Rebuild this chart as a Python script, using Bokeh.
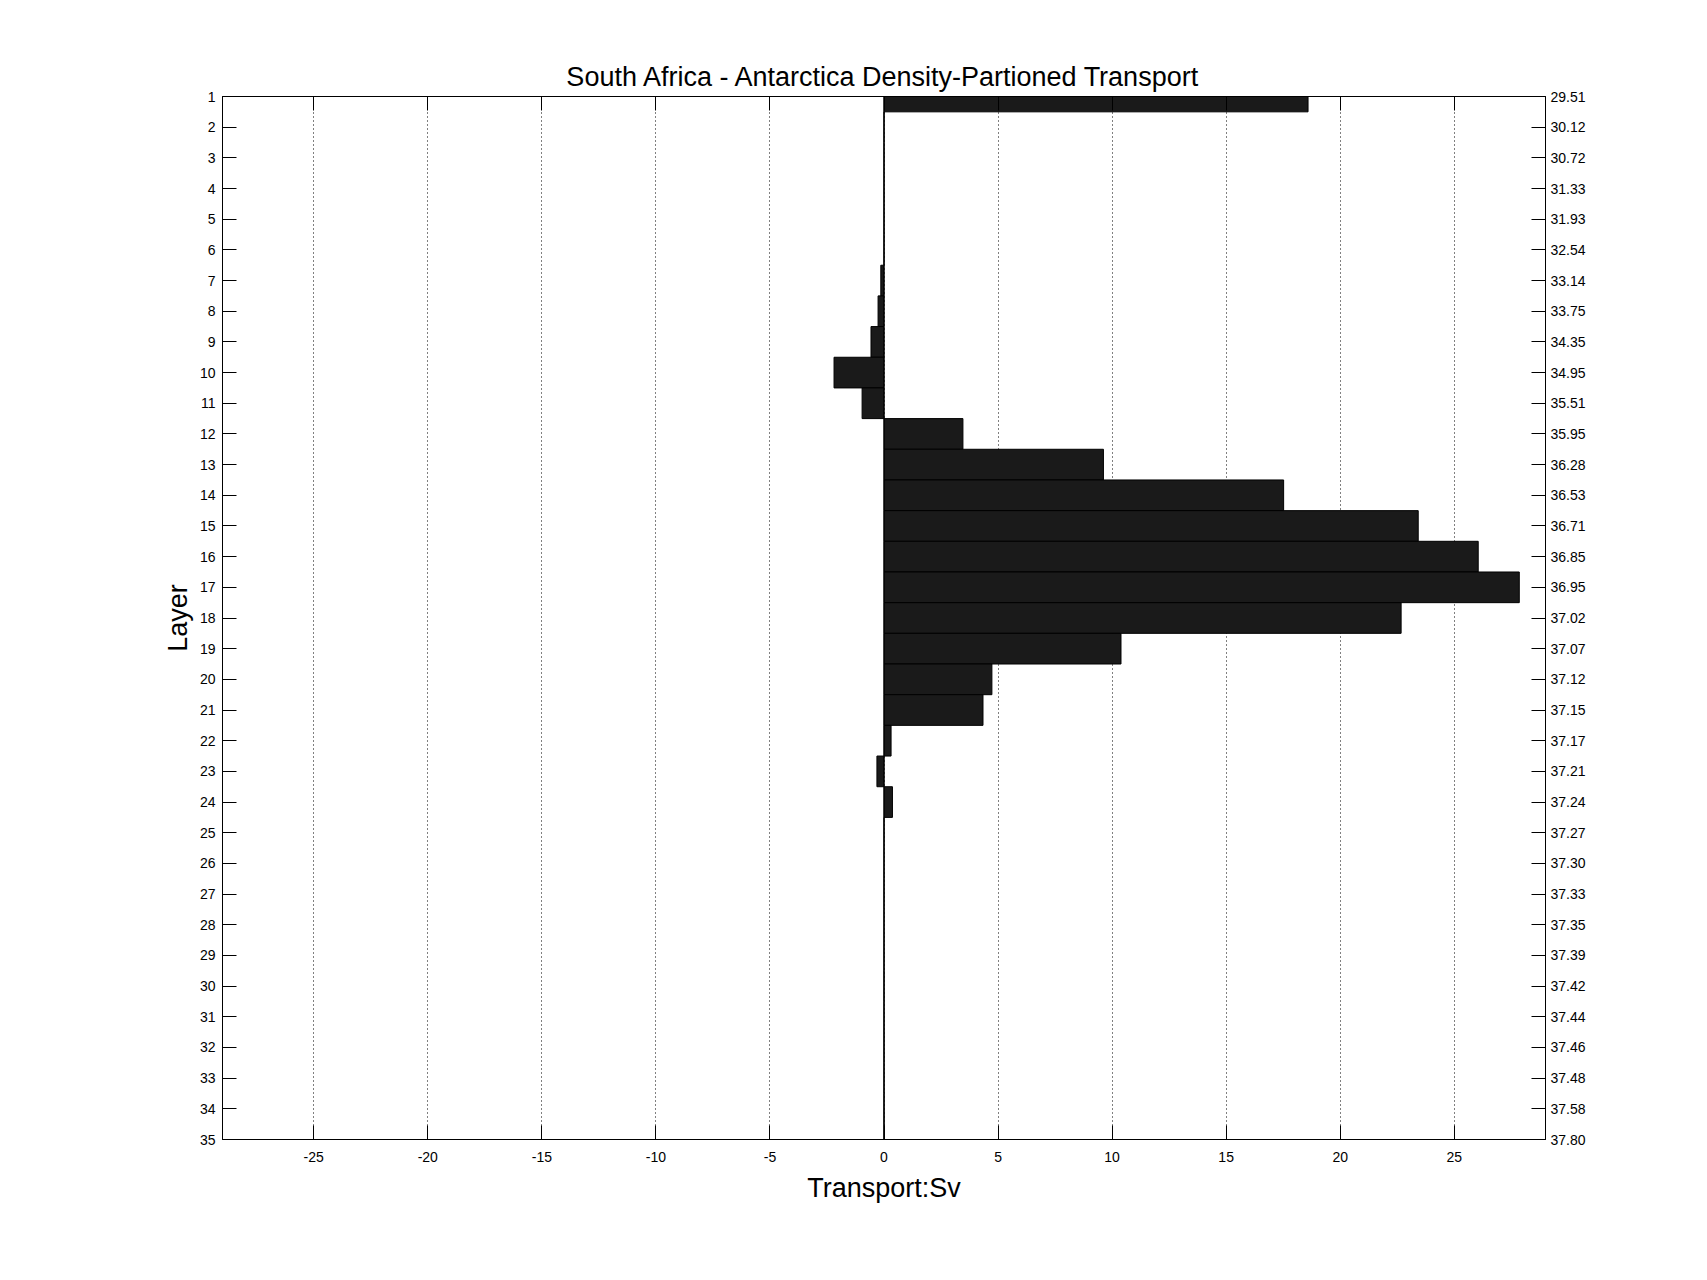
from bokeh.plotting import figure
from bokeh.models import Range1d, LinearAxis, FixedTicker, Span
from bokeh.embed import file_html
from bokeh.resources import INLINE

# ---- data ----
layers = list(range(1, 36))
transport = [18.59, 0, 0, 0, 0, 0, -0.14, -0.26, -0.57, -2.19,
             -0.96, 3.46, 9.62, 17.52, 23.42, 26.05, 27.85, 22.67, 10.39, 4.73,
             4.34, 0.31, -0.31, 0.37, 0, 0, 0, 0, 0, 0,
             0, 0, 0, 0, 0]
density_labels = ["29.51", "30.12", "30.72", "31.33", "31.93", "32.54", "33.14", "33.75",
                  "34.35", "34.95", "35.51", "35.95", "36.28", "36.53", "36.71", "36.85",
                  "36.95", "37.02", "37.07", "37.12", "37.15", "37.17", "37.21", "37.24",
                  "37.27", "37.30", "37.33", "37.35", "37.39", "37.42", "37.44", "37.46",
                  "37.48", "37.58", "37.80"]
x_ticks = [-25, -20, -15, -10, -5, 0, 5, 10, 15, 20, 25]
x_limits = (-29, 29)
title_text = "South Africa - Antarctica Density-Partioned Transport"
x_label = "Transport:Sv"
y_label = "Layer"

FONT = "Liberation Sans"

p = figure(frame_width=1323, frame_height=1043,
           min_border_left=222, min_border_top=96, min_border_right=150, min_border_bottom=120,
           x_range=Range1d(*x_limits), y_range=Range1d(35, 1),
           output_backend="svg", toolbar_location=None,
           title=title_text, x_axis_location="below", y_axis_location="left")

p.background_fill_color = "white"
p.border_fill_color = "white"
p.outline_line_color = "black"
p.outline_line_width = 1

p.title.align = "center"
p.title.text_font = FONT
p.title.text_font_size = "27px"
p.title.text_font_style = "normal"
p.title.text_color = "black"
p.title.standoff = 10

def style_axis(ax, ticks):
    ax.ticker = FixedTicker(ticks=ticks)
    ax.major_tick_in = 14
    ax.major_tick_out = 0
    ax.minor_tick_line_color = None
    ax.axis_line_color = "black"
    ax.major_tick_line_color = "black"
    ax.major_label_text_font = FONT
    ax.major_label_text_font_size = "14px"
    ax.major_label_text_color = "black"
    ax.axis_label_text_font = FONT
    ax.axis_label_text_font_size = "27px"
    ax.axis_label_text_font_style = "normal"
    ax.axis_label_text_color = "black"

xa = p.xaxis[0]
style_axis(xa, x_ticks)
xa.major_label_overrides = {t: str(t) for t in x_ticks}
xa.axis_label = x_label
xa.major_label_standoff = 12
xa.axis_label_standoff = 8

ya = p.yaxis[0]
style_axis(ya, layers)
ya.axis_label = y_label
ya.major_label_standoff = 7
ya.axis_label_standoff = 4

top = LinearAxis()
style_axis(top, x_ticks)
top.major_label_overrides = {t: "" for t in x_ticks}
top.major_label_standoff = 0
p.add_layout(top, "above")

right = LinearAxis()
style_axis(right, layers)
right.major_label_overrides = {l: d for l, d in zip(layers, density_labels)}
right.major_label_standoff = 5
p.add_layout(right, "right")

p.ygrid.grid_line_color = None
p.xgrid.ticker = FixedTicker(ticks=x_ticks)
p.xgrid.grid_line_color = "black"
p.xgrid.grid_line_dash = "1 3"
p.xgrid.grid_line_width = 1

p.hbar(y=layers, left=0, right=transport, height=1.0,
       fill_color="#1a1a1a", line_color="black", line_width=1)

p.add_layout(Span(location=0, dimension="height", line_color="black", line_width=1))

open("out.html", "w").write(file_html(p, INLINE))
